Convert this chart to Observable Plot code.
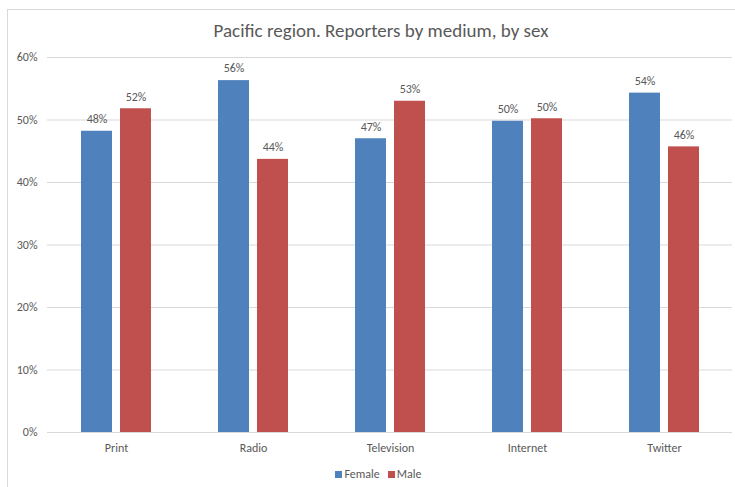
<!DOCTYPE html>
<html>
<head>
<meta charset="utf-8">
<script src="https://cdn.jsdelivr.net/npm/d3@7"></script>
<script src="https://cdn.jsdelivr.net/npm/@observablehq/plot@0.6"></script>
<style>
  html, body { margin: 0; padding: 0; background: #fff; }
  body { width: 735px; height: 487px; overflow: hidden; position: relative;
         font-family: Carlito, Calibri, Lato, "Open Sans", sans-serif; color: #595959; }
  #frame { position: absolute; left: 7px; top: 9px; width: 740px; height: 490px;
           border-left: 1px solid #d9d9d9; border-top: 1px solid #d9d9d9; }
  #title { position: absolute; left: 0; width: 762px; top: 19px; text-align: center;
           font-size: 19px; line-height: 24px; color: #595959; }
  #chart { position: absolute; left: 0; top: 45px; }
  #legend { position: absolute; left: 0; width: 757px; top: 466px; text-align: center;
            font-size: 12px; line-height: 16px; color: #595959; }
  .sw { display: inline-block; width: 7px; height: 7px; margin-right: 2px; vertical-align: 0px; }
  .item { margin: 0 4px; }
</style>
</head>
<body>
<div id="frame"></div>
<div id="title">Pacific region. Reporters by medium, by sex</div>
<div id="chart"></div>
<div id="legend"></div>
<script>
const categories = ["Print", "Radio", "Television", "Internet", "Twitter"];
const series = ["Female", "Male"];
const female = [48.2, 56.3, 47.0, 49.8, 54.3];
const male = [51.8, 43.7, 53.0, 50.2, 45.7];
const yTicks = [0, 10, 20, 30, 40, 50, 60];
const colors = ["#4F81BD", "#C0504D"];

const rows = [];
categories.forEach((c, i) => {
  rows.push({category: c, sex: "Female", value: female[i]});
  rows.push({category: c, sex: "Male", value: male[i]});
});
const fRows = rows.filter(d => d.sex === "Female");
const mRows = rows.filter(d => d.sex === "Male");

const chart = Plot.plot({
  width: 735,
  height: 415,
  marginLeft: 47,
  marginRight: 3,
  marginTop: 12,
  marginBottom: 28,
  style: {fontFamily: "Carlito, Calibri, Lato, 'Open Sans', sans-serif", fontSize: "12px", color: "#595959", background: "transparent"},
  x: {domain: categories, paddingInner: 0.49, paddingOuter: 0.245, label: null},
  y: {domain: [0, 60], label: null},
  color: {domain: series, range: colors},
  marks: [
    Plot.ruleY(yTicks, {stroke: "#d9d9d9", strokeWidth: 1}),
    Plot.barY(fRows, {x: "category", y: "value", fill: "sex", insetRight: 39, insetLeft: 0}),
    Plot.barY(mRows, {x: "category", y: "value", fill: "sex", insetLeft: 39, insetRight: 0}),
    Plot.text(fRows, {x: "category", y: "value", text: d => Math.round(d.value) + "%", dx: -19.5, dy: -12, fill: "#595959", fontSize: 12}),
    Plot.text(mRows, {x: "category", y: "value", text: d => Math.round(d.value) + "%", dx: 19.5, dy: -12, fill: "#595959", fontSize: 12}),
    Plot.axisY({ticks: yTicks, tickFormat: d => d + "%", tickSize: 0, tickPadding: 10, label: null, fontSize: 12}),
    Plot.axisX({tickSize: 0, tickPadding: 11, label: null, fontSize: 12})
  ]
});
document.getElementById("chart").appendChild(chart);

const legend = document.getElementById("legend");
series.forEach((s, i) => {
  const item = document.createElement("span");
  item.className = "item";
  const sw = document.createElement("span");
  sw.className = "sw";
  sw.style.background = colors[i];
  item.appendChild(sw);
  item.appendChild(document.createTextNode(s));
  legend.appendChild(item);
});
</script>
</body>
</html>
